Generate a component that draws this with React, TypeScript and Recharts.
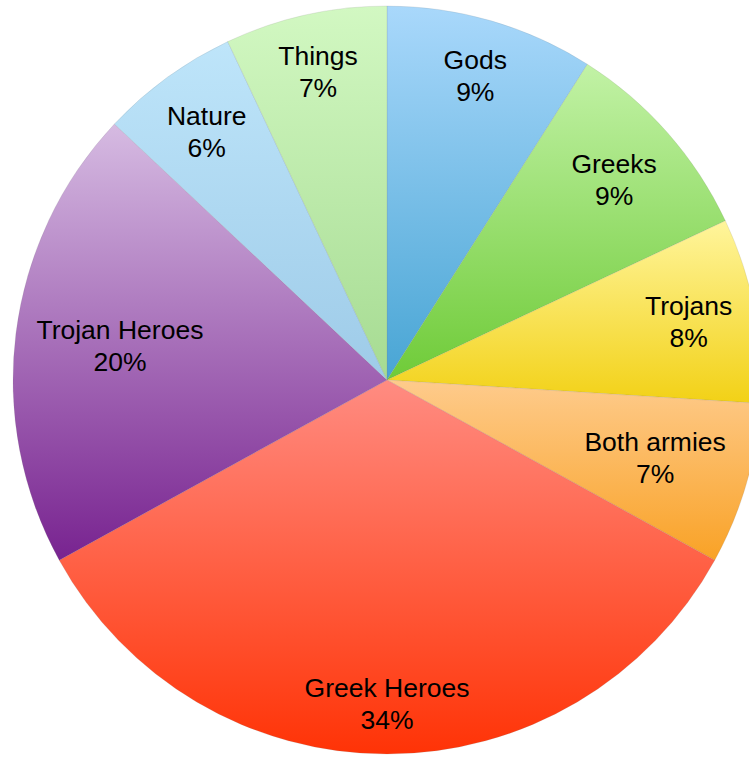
import React from "react";
import { PieChart, Pie, Cell } from "recharts";

// slices go clockwise from 12 o'clock
const categories = ["Gods", "Greeks", "Trojans", "Both armies", "Greek Heroes", "Trojan Heroes", "Nature", "Things"];
const shares = [9, 9, 8, 7, 34, 20, 6, 7];
const topColors = ["#a9d8fb", "#c2f2a6", "#fff59c", "#fecb8c", "#ff8c82", "#d6bbe2", "#bee5fa", "#d2f8c2"];
const bottomColors = ["#48a5d4", "#6fcb38", "#f2d116", "#f9a226", "#ff3306", "#782390", "#9ecbe8", "#a6db92"];

const data = categories.map((name, i) => ({ name, value: shares[i] }));

const FONT = "'Liberation Sans', Arial, Helvetica, sans-serif";
const FONT_SIZE = 26.5;
const LINE_H = 32;

let ctx: CanvasRenderingContext2D | null = null;
function textWidth(s: string) {
    if (!ctx) ctx = document.createElement("canvas").getContext("2d");
    if (!ctx) return s.length * FONT_SIZE * 0.55;
    ctx.font = `${FONT_SIZE}px ${FONT}`;
    return ctx.measureText(s).width;
}

// put each label as far out as its box allows, keeping a fixed gap to the rim
function renderLabel(props: any) {
    const { cx, cy, midAngle, outerRadius, name, percent } = props;
    const rad = (-midAngle * Math.PI) / 180;
    const ux = Math.cos(rad);
    const uy = Math.sin(rad);
    const pct = `${Math.round(percent * 100)}%`;
    const hw = Math.max(textWidth(name), textWidth(pct)) / 2;
    const hh = LINE_H;
    const r = outerRadius - 18 - (hw * Math.abs(ux) + hh * Math.abs(uy));
    const x = cx + r * ux;
    const y = cy + r * uy;
    return (
        <g>
            <text x={x} y={y - LINE_H / 2} textAnchor="middle" dominantBaseline="central" fill="#000" fontFamily={FONT} fontSize={FONT_SIZE}>
                {name}
            </text>
            <text x={x} y={y + LINE_H / 2} textAnchor="middle" dominantBaseline="central" fill="#000" fontFamily={FONT} fontSize={FONT_SIZE}>
                {pct}
            </text>
        </g>
    );
}

export default function App() {
    return (
        <div style={{ position: "absolute", left: 0, top: 0, width: 749, height: 759, overflow: "hidden", background: "#fff" }}>
            <style>{`.recharts-pie-sectors { filter: url(#pieShadow); }`}</style>
            <PieChart width={749} height={759} margin={{ top: 0, right: 0, bottom: 0, left: 0 }}>
                <defs>
                    <filter id="pieShadow" x="-10%" y="-10%" width="130%" height="130%">
                        <feDropShadow dx="2" dy="4" stdDeviation="3" floodColor="#000" floodOpacity="0.3" />
                    </filter>
                    {categories.map((c, i) => (
                        <linearGradient key={c} id={`grad${i}`} x1="0" y1="0" x2="0" y2="1">
                            <stop offset="0%" stopColor={topColors[i]} />
                            <stop offset="100%" stopColor={bottomColors[i]} />
                        </linearGradient>
                    ))}
                </defs>
                <Pie
                    data={data}
                    dataKey="value"
                    nameKey="name"
                    cx={387}
                    cy={380}
                    outerRadius={374}
                    startAngle={90}
                    endAngle={-270}
                    stroke="rgba(120,120,120,0.25)"
                    strokeWidth={0.6}
                    label={renderLabel}
                    labelLine={false}
                    isAnimationActive={false}
                >
                    {data.map((d, i) => (
                        <Cell key={d.name} fill={`url(#grad${i})`} />
                    ))}
                </Pie>
            </PieChart>
        </div>
    );
}
